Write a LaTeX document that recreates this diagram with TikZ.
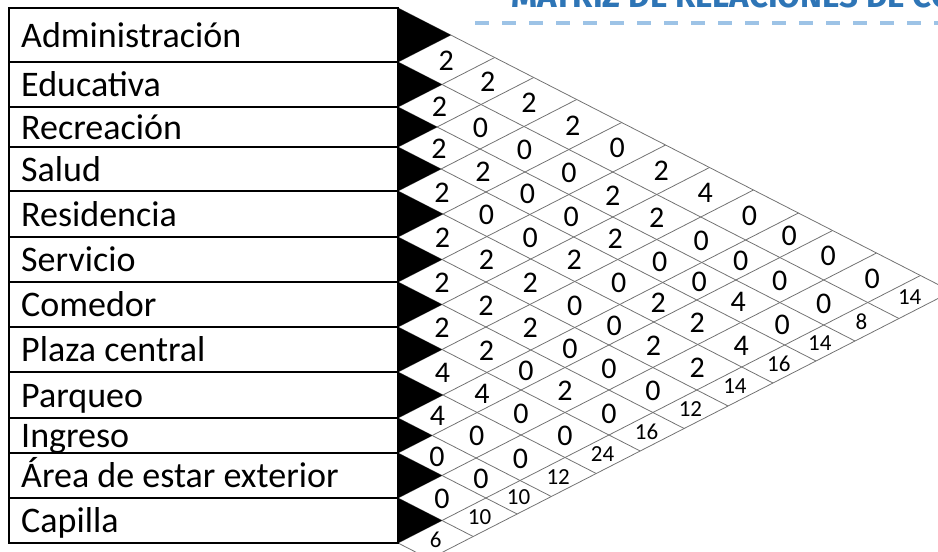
\documentclass[tikz,border=0pt]{standalone}
\usepackage{fontspec}
\setmainfont{Carlito}
\newfontfamily\titlefont{Fira Sans}
\usetikzlibrary{calc}
\definecolor{titleblue}{RGB}{46,117,182}
\definecolor{dashblue}{RGB}{157,195,230}

\begin{document}
\begin{tikzpicture}[x=1pt,y=-1pt,
    item/.style={anchor=base west,inner sep=0pt,font=\fontsize{36}{40}\selectfont},
    val/.style={inner sep=0pt,font=\fontsize{30}{34}\selectfont},
    total/.style={inner sep=0pt,font=\fontsize{23}{26}\selectfont},
    box/.style={draw=black,line width=2.6pt},
    gridline/.style={draw=black!55,line width=0.8pt},
    tipfill/.style={fill=black}
]
\useasboundingbox (0,0) rectangle (938,552);

\def\bnd{{8,62,107,147,191,237,282,327,372,418,453,498,543}}
\def\ctr{{35,84.5,127,169,214,259.5,304.5,349.5,395,435.5,475.5,520.5}}

% title
\coordinate (d0) at (475,23);
\coordinate (d1) at (938,23);
\node[anchor=base west,inner sep=0pt,text=titleblue,font=\titlefont\bfseries\fontsize{33}{36}\selectfont] (title) at (511,7) {MATRIZ DE RELACIONES DE CO};
\draw[dashblue,line width=3.5pt,dash pattern=on 14pt off 13pt] (d0) -- (d1);

% grid
\foreach \k in {0,...,12}{
    \pgfmathsetmacro\yk{\bnd[\k]}
    \draw[gridline] (398,\yk) -- ({398+(575-\yk)/1.024},{(\yk+575)/2});
    \draw[gridline] (398,\yk) -- ({398+(\yk-8)/1.024},{(\yk+8)/2});
}
\draw[gridline] ({398+32/1.024},559) -- ({398+567/1.024},291.5);

% spaces
\foreach \name [count=\i from 0] in {Administración,Educativa,Recreación,Salud,Residencia,Servicio,Comedor,Plaza central,Parqueo,Ingreso,Área de estar exterior,Capilla}{
    \pgfmathsetmacro\ya{\bnd[\i]}
    \pgfmathsetmacro\yb{\bnd[\i+1]}
    \fill[tipfill] (398,\ya) -- ({398+(\yb-\ya)/1.024},{(\ya+\yb)/2}) -- (398,\yb) -- cycle;
    \draw[box] (9,\ya) rectangle (398,\yb);
    \node[item] (lab\i) at (21,{(\ya+\yb)/2+12}) {\name};
}

% relations
\foreach \row [count=\i from 0] in {{2,2,2,2,0,2,4,0,0,0,0},{2,0,0,0,2,2,0,0,0,0},{2,2,0,0,2,0,0,4,0},{2,0,0,2,0,2,2,4},{2,2,2,0,0,2,2},{2,2,2,0,0,0},{2,2,0,2,0},{4,4,0,0},{4,0,0},{0,0},{0}}{
    \pgfmathtruncatemacro\jstart{\i+1}
    \pgfmathsetmacro\ci{\ctr[\i]}
    \foreach \v [count=\j from \jstart] in \row {
        \pgfmathsetmacro\cj{\ctr[\j]}
        \node[val] (p\i-\j) at ({398+(\cj-\ci)/1.024},{(\ci+\cj)/2+1}) {\v};
    }
}

% sums
\foreach \t [count=\i from 0] in {14,8,14,16,14,12,16,24,12,10,10,6}{
    \pgfmathsetmacro\ci{\ctr[\i]}
    \node[total] (sum\i) at ({398+(559-\ci)/1.024},{(\ci+559)/2}) {\t};
}
\end{tikzpicture}
\end{document}
